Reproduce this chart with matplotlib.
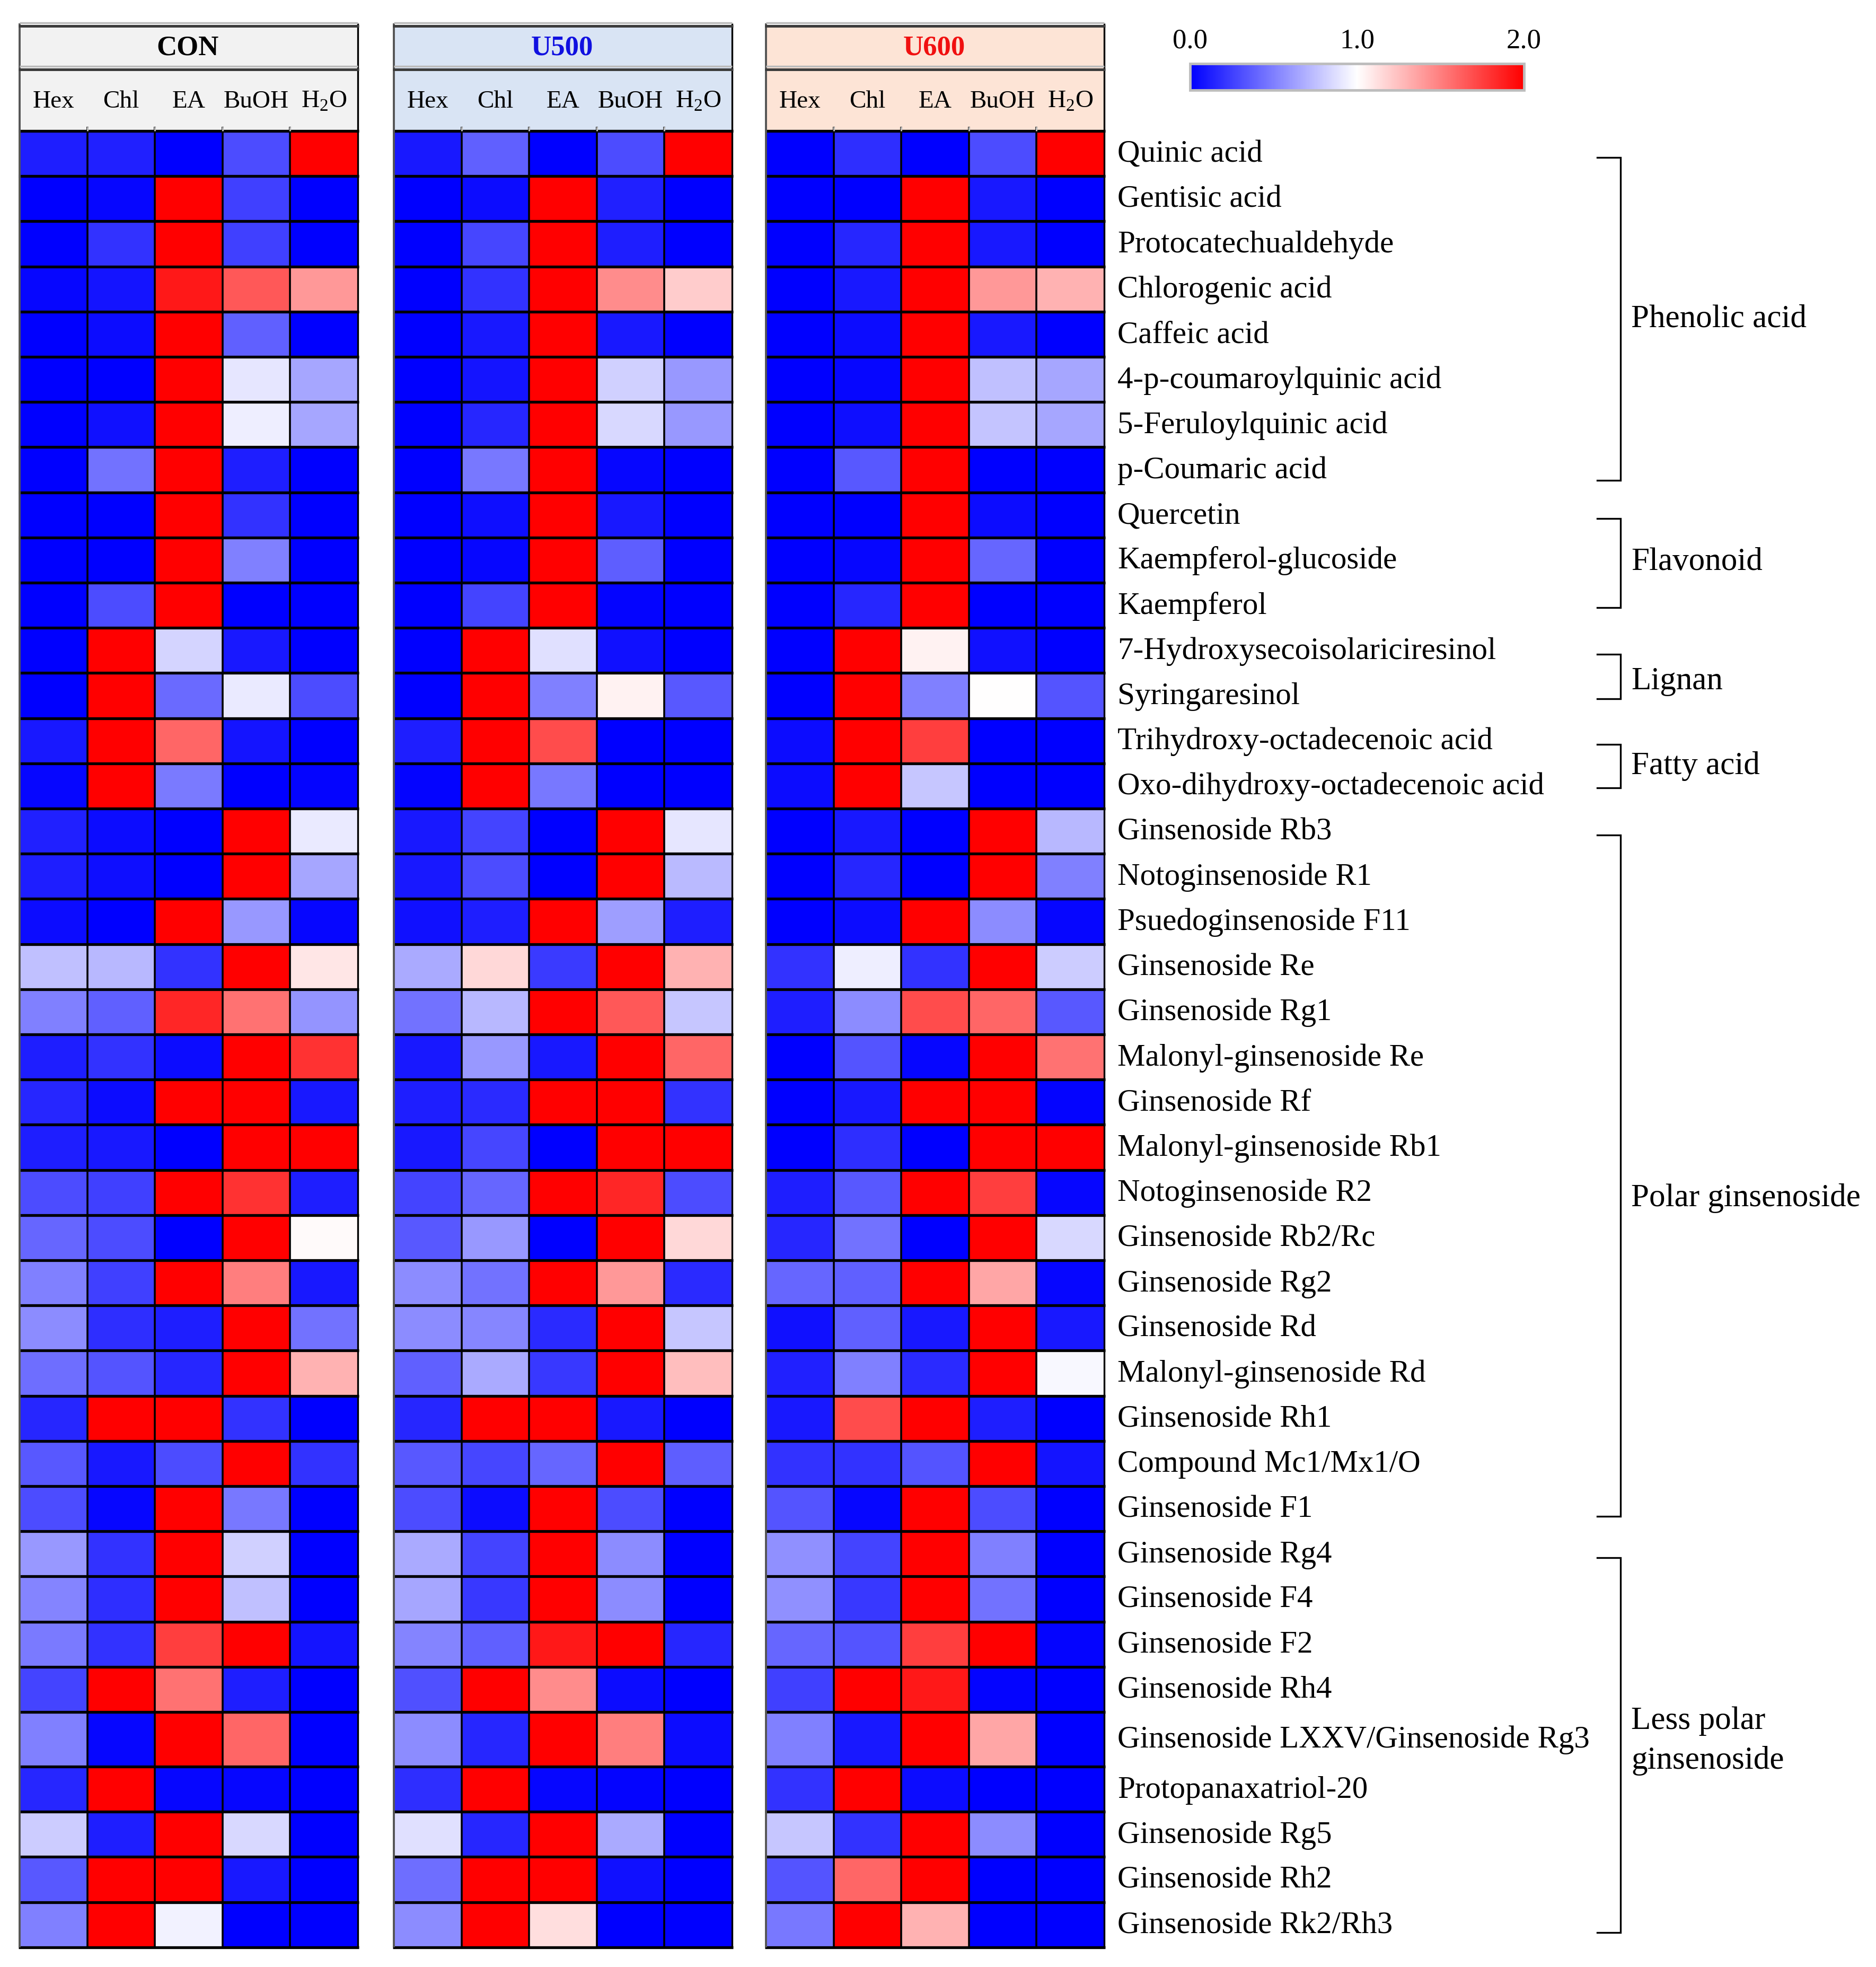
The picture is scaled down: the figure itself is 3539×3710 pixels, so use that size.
import numpy as np
import matplotlib
matplotlib.use("Agg")
import matplotlib.pyplot as plt
from matplotlib.colors import LinearSegmentedColormap, Normalize
from matplotlib.cm import ScalarMappable

plt.rcParams['font.family'] = ['Liberation Serif', 'DejaVu Serif']
plt.rcParams['mathtext.fontset'] = 'custom'
plt.rcParams['mathtext.rm'] = 'Liberation Serif'

compounds = [
    "Quinic acid", "Gentisic acid", "Protocatechualdehyde", "Chlorogenic acid", "Caffeic acid",
    "4-p-coumaroylquinic acid", "5-Feruloylquinic acid", "p-Coumaric acid", "Quercetin",
    "Kaempferol-glucoside", "Kaempferol", "7-Hydroxysecoisolariciresinol", "Syringaresinol",
    "Trihydroxy-octadecenoic acid", "Oxo-dihydroxy-octadecenoic acid", "Ginsenoside Rb3",
    "Notoginsenoside R1", "Psuedoginsenoside F11", "Ginsenoside Re", "Ginsenoside Rg1",
    "Malonyl-ginsenoside Re", "Ginsenoside Rf", "Malonyl-ginsenoside Rb1", "Notoginsenoside R2",
    "Ginsenoside Rb2/Rc", "Ginsenoside Rg2", "Ginsenoside Rd", "Malonyl-ginsenoside Rd",
    "Ginsenoside Rh1", "Compound Mc1/Mx1/O", "Ginsenoside F1", "Ginsenoside Rg4", "Ginsenoside F4",
    "Ginsenoside F2", "Ginsenoside Rh4", "Ginsenoside LXXV/Ginsenoside Rg3", "Protopanaxatriol-20",
    "Ginsenoside Rg5", "Ginsenoside Rh2", "Ginsenoside Rk2/Rh3",
]
fractions = ["Hex", "Chl", "EA", "BuOH", "H$_{2}$O"]

con_values = [
    [.12, .13, 0, .3, 2], [0, .03, 2, .25, 0], [0, .2, 2, .25, 0], [.03, .08, 1.9, 1.65, 1.4],
    [0, .05, 2, .38, 0], [0, 0, 2, .9, .65], [0, .07, 2, .93, .65], [0, .45, 2, .12, 0],
    [0, 0, 2, .2, 0], [0, 0, 2, .5, 0], [0, .3, 2, 0, 0], [0, 2, .83, .1, 0],
    [0, 2, .42, .92, .3], [.1, 2, 1.6, .08, 0], [.03, 2, .48, 0, .02], [.13, .05, 0, 2, .92],
    [.12, .06, 0, 2, .65], [.05, 0, 2, .6, .03], [.75, .72, .2, 2, 1.1], [.5, .38, 1.85, 1.55, .58],
    [.12, .2, .05, 2, 1.8], [.15, .05, 2, 2, .1], [.12, .1, 0, 2, 2], [.3, .25, 2, 1.8, .12],
    [.4, .3, 0, 2, 1.02], [.5, .25, 2, 1.5, .1], [.55, .18, .12, 2, .45], [.43, .33, .15, 2, 1.3],
    [.15, 2, 2, .2, 0], [.35, .1, .3, 2, .2], [.3, .03, 2, .47, 0], [.6, .2, 2, .82, 0],
    [.52, .18, 2, .75, 0], [.48, .2, 1.75, 2, .08], [.27, 2, 1.55, .12, 0], [.5, .03, 2, 1.6, 0],
    [.15, 2, .03, .03, 0], [.8, .12, 2, .85, 0], [.35, 2, 2, .1, 0], [.5, 2, .95, 0, 0],
]
u500_values = [
    [.1, .38, 0, .3, 2], [0, .05, 2, .13, 0], [0, .28, 2, .12, 0], [0, .2, 2, 1.45, 1.2],
    [0, .1, 2, .1, 0], [0, .08, 2, .82, .6], [0, .15, 2, .85, .6], [0, .47, 2, .03, 0],
    [0, .06, 2, .1, 0], [0, .03, 2, .37, 0], [0, .27, 2, .02, 0], [0, 2, .88, .07, 0],
    [0, 2, .5, 1.05, .35], [.12, 2, 1.7, 0, 0], [.02, 2, .47, 0, 0], [.1, .27, 0, 2, .9],
    [.1, .3, 0, 2, .73], [.07, .12, 2, .62, .12], [.67, 1.15, .23, 2, 1.3], [.45, .72, 2, 1.65, .78],
    [.1, .6, .1, 2, 1.6], [.12, .17, 2, 2, .2], [.1, .28, 0, 2, 2], [.27, .4, 2, 1.85, .3],
    [.35, .6, 0, 2, 1.15], [.55, .45, 2, 1.4, .17], [.55, .53, .17, 2, .78], [.38, .67, .22, 2, 1.25],
    [.15, 2, 2, .1, 0], [.35, .28, .4, 2, .37], [.3, .05, 2, .3, 0], [.67, .27, 2, .55, 0],
    [.65, .22, 2, .55, 0], [.52, .38, 1.9, 2, .15], [.32, 2, 1.45, .05, 0], [.55, .15, 2, 1.5, .05],
    [.18, 2, .03, .02, 0], [.88, .15, 2, .67, 0], [.43, 2, 2, .07, 0], [.55, 2, 1.13, 0, 0],
]
u600_values = [
    [0, .18, 0, .3, 2], [0, 0, 2, .1, 0], [0, .15, 2, .1, 0], [0, .1, 2, 1.4, 1.3],
    [0, .05, 2, .1, 0], [0, .03, 2, .75, .65], [0, .06, 2, .77, .65], [0, .35, 2, 0, 0],
    [0, 0, 2, .05, 0], [0, .03, 2, .4, 0], [0, .15, 2, 0, 0], [0, 2, 1.05, .07, 0],
    [0, 2, .5, 1.0, .33], [.05, 2, 1.75, 0, 0], [.05, 2, .78, 0, 0], [0, .1, 0, 2, .72],
    [0, .15, 0, 2, .5], [0, .05, 2, .55, .03], [.2, .93, .2, 2, .8], [.12, .55, 1.7, 1.6, .35],
    [0, .33, .03, 2, 1.55], [0, .1, 2, 2, .02], [0, .18, 0, 2, 2], [.12, .35, 2, 1.75, .03],
    [.15, .45, 0, 2, .85], [.4, .38, 2, 1.35, .03], [.07, .38, .1, 2, .1], [.13, .5, .17, 2, .97],
    [.1, 1.7, 2, .12, 0], [.2, .2, .33, 2, .08], [.33, .03, 2, .3, 0], [.57, .27, 2, .5, 0],
    [.57, .22, 2, .45, 0], [.4, .33, 1.75, 2, .02], [.25, 2, 1.9, .02, 0], [.5, .1, 2, 1.35, 0],
    [.2, 2, .05, 0, 0], [.78, .2, 2, .55, 0], [.33, 1.6, 2, 0, 0], [.47, 2, 1.3, 0, 0],
]

panel_names = ["CON", "U500", "U600"]
panel_values = [con_values, u500_values, u600_values]
panel_colors = ["black", "#1010e0", "#f01010"]
header_colors = ["#f2f2f2", "#d9e4f4", "#fde4d6"]

group_names = ["Phenolic acid", "Flavonoid", "Lignan", "Fatty acid", "Polar ginsenoside", "Less polar\nginsenoside"]
group_first = [0, 8, 11, 13, 15, 31]
group_last = [7, 10, 12, 14, 30, 39]

W, H = 3539, 3710
panel_left = [37, 743, 1445]
panel_width = 638
head_top, head_mid, head_bottom = 49, 131, 247

# bracket ends and group captions do not sit exactly on the rows
bracket_top_shift = [7, 7, 7, 7, 7, 7]
bracket_bottom_shift = [20, 4, 6, 4, 14, 15]
caption_shift = [0, -2, 9, 0, 43, -8]

# one row is taller than the rest in the original
row_height = np.full(len(compounds), 85.2)
row_height[35] = 103
row_edges = head_bottom + np.concatenate([[0], np.cumsum(row_height)])
row_mid = (row_edges[:-1] + row_edges[1:]) / 2

cmap = LinearSegmentedColormap.from_list("bwr_hm", ["#0000ff", "#ffffff", "#ff0000"])
norm = Normalize(0, 2)

fig = plt.figure(figsize=(W / 100, H / 100), dpi=100)
ax = fig.add_axes([0, 0, 1, 1])
ax.set_xlim(0, W)
ax.set_ylim(H, 0)
ax.axis("off")

for left, name, values, tcol, hcol in zip(panel_left, panel_names, panel_values, panel_colors, header_colors):
    right = left + panel_width
    col_edges = np.linspace(left, right, 6)
    col_mid = (col_edges[:-1] + col_edges[1:]) / 2

    ax.fill_between([left, right], head_top, head_bottom, color=hcol, lw=0)
    ax.pcolormesh(col_edges, row_edges, np.array(values), cmap=cmap, norm=norm)

    # grid
    ax.hlines(row_edges, left - 2, right + 2, color="black", lw=3.8)
    ax.vlines(col_edges[1:-1], head_bottom - 8, row_edges[-1], color="black", lw=2.6)
    ax.vlines(col_edges[1:-1], head_bottom - 8, head_bottom, color="#bbbbbb", lw=2.2)
    ax.vlines(left, head_top - 5, row_edges[-1], color="#555555", lw=2.8)
    ax.vlines(right, head_top - 5, row_edges[-1], color="black", lw=2.4)
    ax.hlines([head_top, head_mid], left - 2, right + 2, color="#3c3c3c", lw=3.6)
    ax.hlines([head_top - 6, head_mid - 6], left, right, color="#bbbbbb", lw=2.5)

    ax.text((left + right) / 2 - 2, 104, name, color=tcol, fontsize=38, fontweight="bold",
            ha="center", va="baseline")
    for x, frac in zip(col_mid, fractions):
        ax.text(x, 203, frac, fontsize=34, ha="center", va="baseline")

for y, name in zip(row_mid, compounds):
    ax.text(2108, y + 16, name, fontsize=42.5, ha="left", va="baseline")

# brackets on the right
for first, last, name, t, b, c in zip(group_first, group_last, group_names,
                                      bracket_top_shift, bracket_bottom_shift, caption_shift):
    top = row_mid[first] + t
    bottom = row_mid[last] + b
    ax.plot([3013, 3057, 3057, 3013], [top, top, bottom, bottom], color="black", lw=2.4,
            solid_joinstyle="miter")
    ax.text(3077, (top + bottom) / 2 + c, name, fontsize=44, ha="left", va="center", linespacing=1.45)

# colour scale
cax = fig.add_axes([2245 / W, 1 - 170 / H, 630 / W, 50 / H])
cb = fig.colorbar(ScalarMappable(norm=norm, cmap=cmap), cax=cax, orientation="horizontal")
cb.set_ticks([0, 1, 2], labels=["0.0", "1.0", "2.0"])
cax.xaxis.set_ticks_position("top")
cax.tick_params(length=0, labelsize=38, pad=13)
cb.outline.set_edgecolor("#bdbdbd")
cb.outline.set_linewidth(3.5)

fig.savefig("out.png", dpi=100, facecolor="white")
